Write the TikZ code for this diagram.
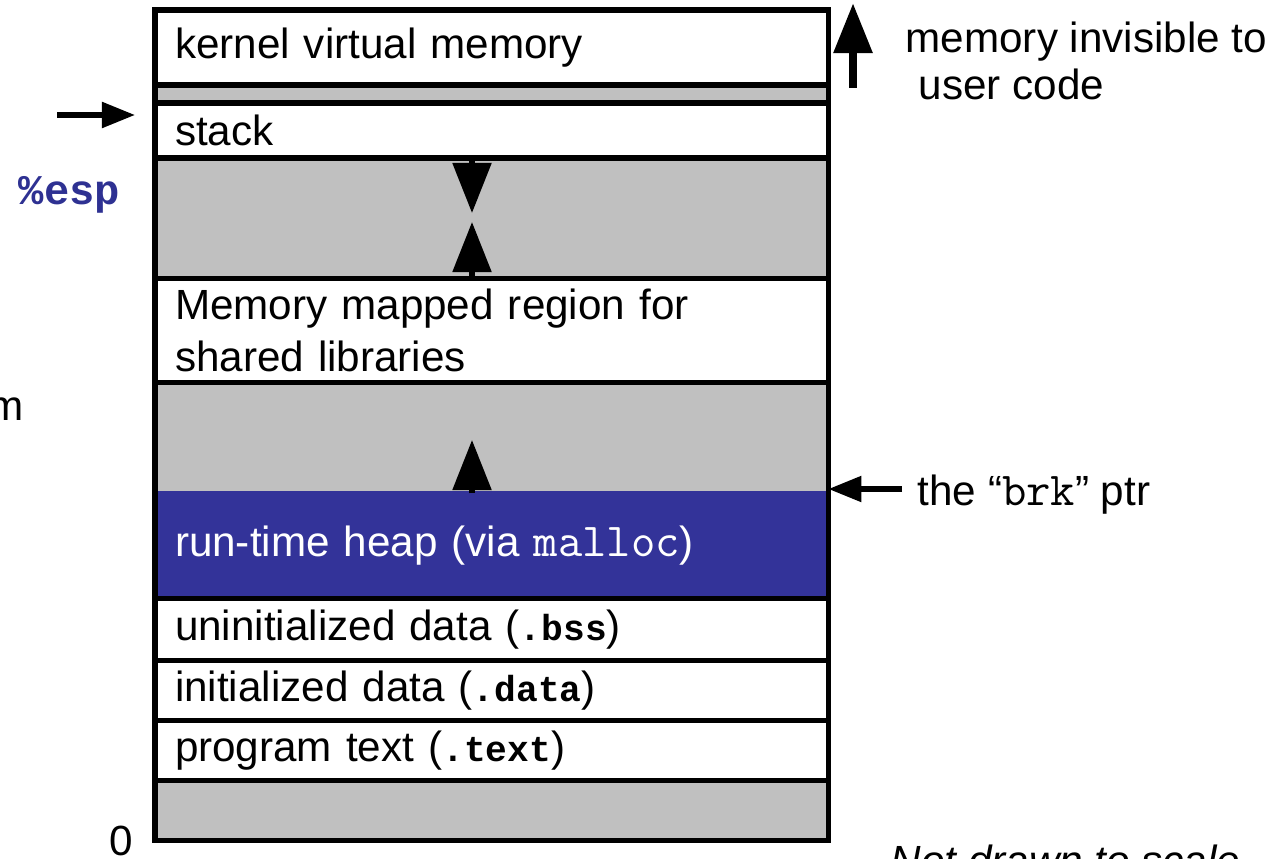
\documentclass[tikz,border=0pt]{standalone}
\usepackage{fontspec}
\setmainfont{Liberation Sans}
\setmonofont{Liberation Mono}
\newfontfamily\thinmono{Latin Modern Mono}[Scale=1.12]
\usetikzlibrary{positioning, arrows.meta}
\definecolor{gapgray}{HTML}{C0C0C0}
\definecolor{heapblue}{HTML}{333399}
\definecolor{espblue}{HTML}{2E3192}
\newcommand{\segname}[1]{{\fontsize{10.3}{12}\selectfont\ttfamily\bfseries #1}}

\begin{document}
\begin{tikzpicture}[x=0.01cm, y=-0.01cm, font=\fontsize{12}{14.8}\selectfont,
  region/.style={shape=rectangle, draw=black, line width=1.5pt, outer sep=0pt, inner xsep=0.2cm, inner ysep=0pt, text width=6.33cm, align=left},
  gap/.style={region, fill=gapgray},
  bigtip/.style={-{Triangle[length=0.5cm, width=0.38cm]}, line width=1.5pt},
  smalltip/.style={-{Triangle[length=0.33cm, width=0.25cm]}, line width=1.5pt},
  label/.style={inner sep=0pt}]
\useasboundingbox (0,0) rectangle (1280,858);
\node[region, anchor=north west, minimum height=0.75cm] (kernel) at (155,10) {kernel virtual memory};
\node[gap, below=0pt of kernel, minimum height=0.18cm] (gapA) {};
\node[region, below=0pt of gapA, minimum height=0.55cm] (stack) {stack};
\node[gap, below=0pt of stack, minimum height=1.2cm] (gapB) {};
\node[region, below=0pt of gapB, minimum height=1.04cm] (shlib) {Memory mapped region for\\shared libraries};
\node[gap, below=0pt of shlib, minimum height=1.11cm] (gapC) {};
\node[region, below=0pt of gapC, minimum height=1.05cm, fill=heapblue, draw=heapblue, text=white] (heap) {run-time heap (via {\thinmono malloc})};
\node[region, below=0pt of heap, minimum height=0.62cm] (bss) {uninitialized data (\segname{.bss})};
\node[region, below=0pt of bss, minimum height=0.6cm] (data) {initialized data (\segname{.data})};
\node[region, below=0pt of data, minimum height=0.6cm] (text) {program text (\segname{.text})};
\node[gap, below=0pt of text, minimum height=0.6cm] (gapD) {};
\draw[line width=1.5pt] (kernel.north west) rectangle (gapD.south east);
\coordinate (stacktip) at (472,213);
\coordinate (shlibtip) at (472,222);
\coordinate (heaptip) at (472,440);
\draw[bigtip] (stacktip |- stack.south) -- (stacktip);
\draw[bigtip] (shlibtip |- shlib.north) -- (shlibtip);
\draw[bigtip] (heaptip |- heap.north) -- (heaptip);
\coordinate (esptail) at (57,115);
\coordinate (esptip) at (135,115);
\draw[smalltip] (esptail) -- (esptip);
\node[label, anchor=west] (esp) at (18,195) {\color{espblue}\ttfamily\bfseries\%esp};
\node[label, anchor=base east] (mcut) at (24,420) {m};
\node[label, anchor=base] (zero) at (121,855) {0};
\coordinate (invistail) at (853,88);
\coordinate (invistip) at (853,3);
\draw[-{Triangle[length=0.5cm, width=0.37cm]}, line width=2.5pt] (invistail) -- (invistip);
\node[label, anchor=base west] (invisA) at (905,53) {memory invisible to};
\node[label, anchor=base west] (invisB) at (918,100) {user code};
\coordinate (brktail) at (902,489);
\draw[smalltip] (brktail) -- (brktail -| heap.east);
\node[label, anchor=base west] (brk) at (917,505) {the “{\thinmono brk}” ptr};
\node[label, anchor=base west] (scale) at (890,875) {\itshape Not drawn to scale};
\end{tikzpicture}
\end{document}
